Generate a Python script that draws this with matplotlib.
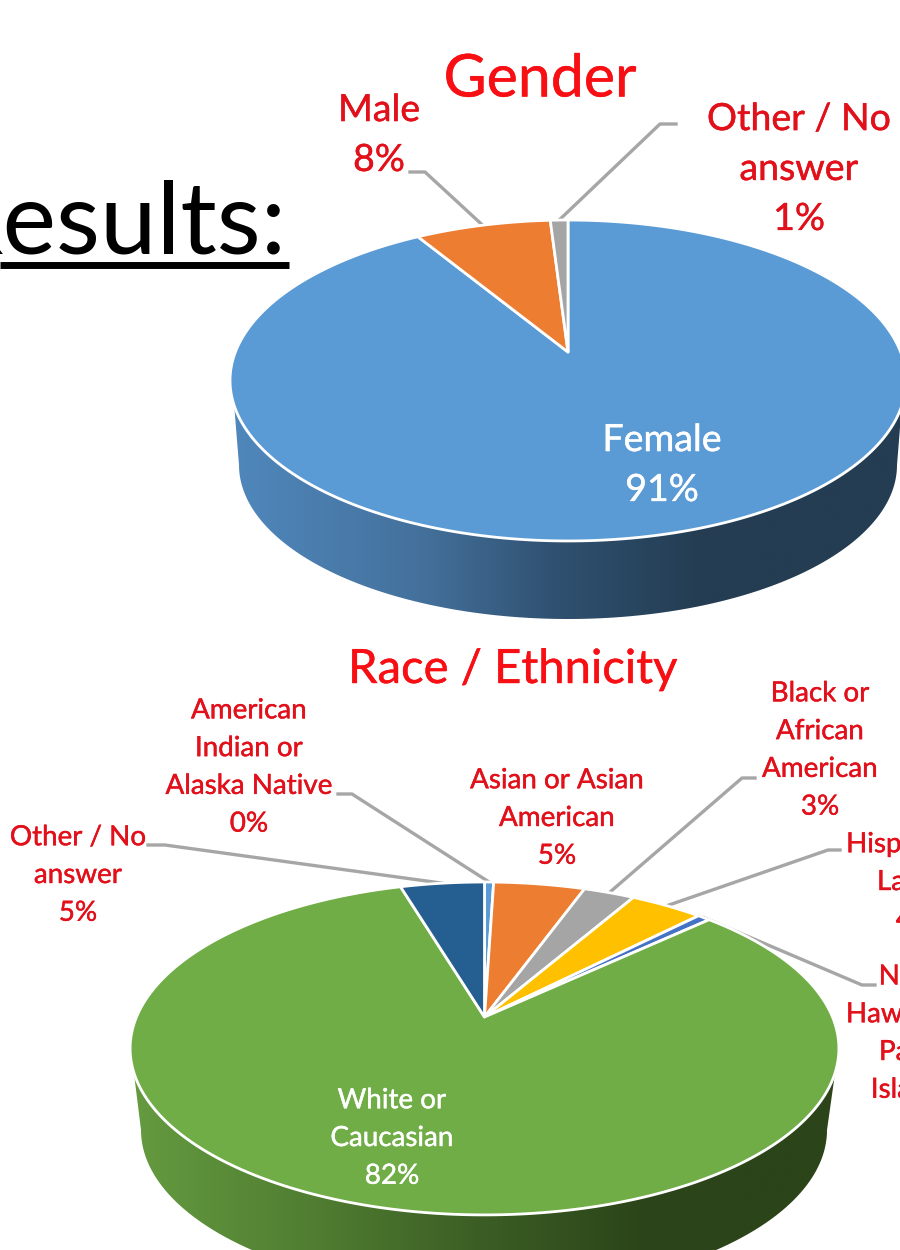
import numpy as np
import matplotlib
matplotlib.use("Agg")
import matplotlib.pyplot as plt
import matplotlib.patheffects as pe
from matplotlib.patches import Polygon
from matplotlib.colors import LinearSegmentedColormap

plt.rcParams['font.family'] = ['Lato', 'DejaVu Sans']

# ---- data (clockwise from 12 o'clock) ----
gender_names = ["Other / No\nanswer\n1%", "Male\n8%", "Female\n91%"]
gender_values = [91.3, 7.7, 1.0]               # Female, Male, Other
gender_colors = ["#5B9BD5", "#ED7D31", "#A5A5A5"]

race_values = [0.5, 5.0, 2.8, 4.0, 0.7, 82.4, 4.6]  # AI, Asian, Black, Hispanic, NH, White, Other
race_colors = ["#5B9BD5", "#ED7D31", "#A5A5A5", "#FFC000", "#4472C4", "#70AD47", "#255E91"]
race_names = ["American\nIndian or\nAlaska Native\n0%", "Asian or Asian\nAmerican\n5%",
              "Black or\nAfrican\nAmerican\n3%", "Hispanic or\nLatino\n4%",
              "Native\nHawaiian or\nPacific\nIslander\n0%", "White or\nCaucasian\n82%",
              "Other / No\nanswer\n5%"]

RED = "#E2101A"
TITLE_RED = "#F70F14"
fig = plt.figure(figsize=(9, 12.5), dpi=100, facecolor="white")
ax = fig.add_axes([0, 0, 1, 1])
ax.set_xlim(0, 900)
ax.set_ylim(1250, 0)
ax.axis("off")


class Pie3D:
    def __init__(self, x0, y0, A, B, k, bot, grad):
        self.x0, self.y0, self.A, self.B, self.k = x0, y0, A, B, k
        self.bot, self.grad = bot, grad

    def rim(self, deg):
        t = np.radians(deg)
        w = 1 + self.k * np.cos(t)
        return self.x0 + self.A * np.sin(t) / w, self.y0 - self.B * np.cos(t) / w

    def side(self):
        cx, cy, a, b = self.bot
        t = np.radians(np.linspace(0, 180, 200))
        lx, ly = cx + a * np.cos(t), cy + b * np.sin(t)
        tx, ty = self.rim(np.linspace(251, 109, 200))
        pts = np.column_stack([np.r_[tx, lx], np.r_[ty, ly]])
        poly = Polygon(pts, closed=True, fc="none", ec="none", transform=ax.transData)
        ax.add_patch(poly)
        cmap = LinearSegmentedColormap.from_list("g", self.grad)
        im = ax.imshow(np.linspace(0, 1, 256)[None, :], cmap=cmap, aspect="auto",
                       extent=[cx - a - 12, cx + a + 12, 1300, self.y0 - 20], zorder=1)
        im.set_clip_path(poly)
        ax.set_xlim(0, 900)
        ax.set_ylim(1250, 0)

    def slices(self, values, colors):
        cum = np.r_[0, np.cumsum(values)] / np.sum(values) * 360
        for s, e, c in zip(cum[:-1], cum[1:], colors):
            xs, ys = self.rim(np.linspace(s, e, max(int(e - s) * 2, 4)))
            ax.add_patch(Polygon(np.column_stack([np.r_[self.x0, xs], np.r_[self.y0, ys]]),
                                 closed=True, fc=c, ec="white", lw=2.0, joinstyle="round", zorder=2))
        return (cum[:-1] + cum[1:]) / 2

    def leader(self, mid, elbow, end):
        x, y = self.rim(mid)
        ax.plot([x, elbow[0], end], [y, elbow[1], elbow[1]], color="#A6A6A6", lw=2.4, zorder=1.5,
                solid_joinstyle="round")


def label(x, y, s, size, color=RED, **kw):
    ax.text(x, y, s, fontsize=size, color=color, ha="center", va="center",
            multialignment="center", zorder=4,
            path_effects=[pe.withStroke(linewidth=0.3, foreground=color)], **kw)


# ---- heading ----
ax.text(287, 253, "Results:", fontsize=73, color="black", ha="right", va="baseline", zorder=3)
ax.plot([0, 289], [265, 265], color="black", lw=5, solid_capstyle="butt", zorder=3)

# ---- gender pie ----
g = Pie3D(568, 352, 332.6, 155.4, 0.1776, (568, 465, 329, 154),
          [(0, "#5088BD"), (0.283, "#44719C"), (0.488, "#2F506F"), (0.693, "#243D52"), (1, "#243D52")])
g.side()
mids = g.slices(gender_values, gender_colors)
g.leader(mids[1], (425, 172), 410)
g.leader(mids[2], (660, 124), 676)
label(540, 80, "Gender", 42.5, color=TITLE_RED)
label(379, 135, gender_names[1], 27, linespacing=1.48)
label(799, 169, gender_names[0], 27, linespacing=1.48)
label(662, 465, gender_names[2], 27, color="white", linespacing=1.48)

# ---- race pie ----
r = Pie3D(484.5, 1017, 348, 160.5, 0.189, (484, 1130, 343, 163),
          [(0, "#659B40"), (0.27, "#4F7C31"), (0.49, "#3C5E25"), (0.73, "#2B4419"), (1, "#2B4419")])
r.side()
mids = r.slices(race_values, race_colors)
r.leader(mids[0], (352, 794), 338)
r.leader(mids[2], (742, 778), 755)
r.leader(mids[3], (828, 850), 840)
r.leader(mids[4], (862, 985), 875)
r.leader(mids[6], (165, 845), 148)
label(513, 670, "Race / Ethnicity", 34, color=TITLE_RED)
LS = 1.56
label(249, 767, race_names[0], 20, linespacing=LS)
label(557, 818, race_names[1], 20, linespacing=LS)
label(820, 750, race_names[2], 20, linespacing=LS)
label(915, 882, race_names[3], 20, linespacing=LS, clip_on=True)
label(919, 1052, race_names[4], 20, linespacing=LS, clip_on=True)
label(392, 1138, race_names[5], 20, color="white", linespacing=LS)
label(78, 875, race_names[6], 20, linespacing=LS)

fig.savefig("out.png", dpi=100)
